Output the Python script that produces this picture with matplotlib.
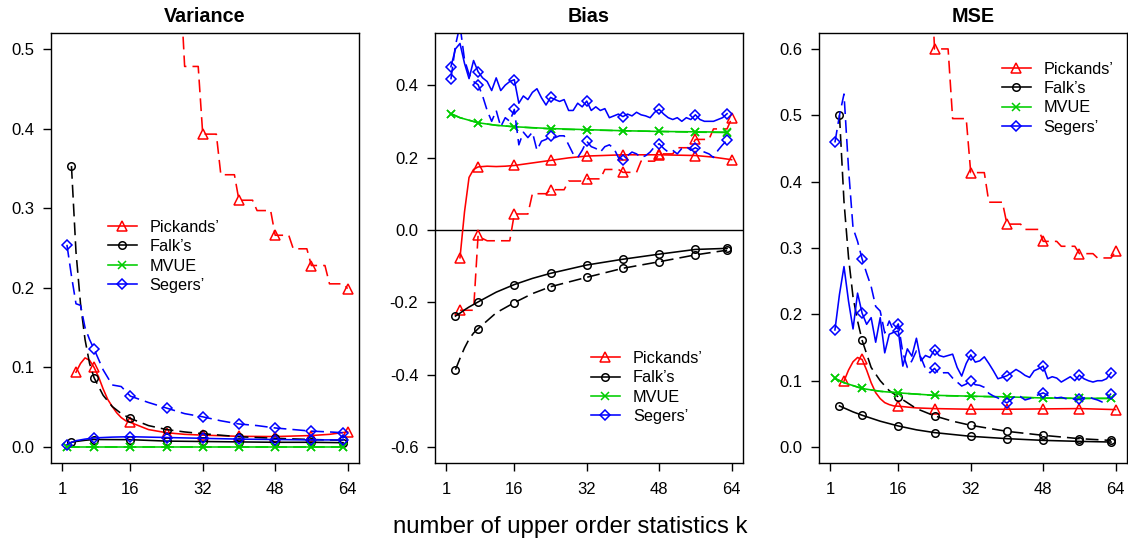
import numpy as np
import matplotlib
matplotlib.use("Agg")
import matplotlib.pyplot as plt
from matplotlib.lines import Line2D

plt.rcParams['font.family'] = ['Liberation Sans', 'DejaVu Sans']
plt.rcParams['axes.unicode_minus'] = False

# ---------------- data ----------------
estimators = ["Pickands\u2019", "Falk\u2019s", "MVUE", "Segers\u2019"]
x_ticks = [1, 16, 32, 48, 64]

# marker positions (k) for each estimator
mk_pick = [4, 8, 16, 24, 32, 40, 48, 56, 64]
mk_falk = [3, 8, 16, 24, 32, 40, 48, 56, 63]
mk_mvue = [2, 8, 16, 24, 32, 40, 48, 56, 63]
mk_seg = [2, 8, 16, 24, 32, 40, 48, 56, 63]

k_step = [4, 7, 8, 11, 12, 15, 16, 19, 20, 23, 24, 27, 28, 31, 32, 35,
          36, 39, 40, 43, 44, 47, 48, 51, 52, 55, 56, 59, 60, 63, 64]
k_seg = list(range(2, 64))

# ---- Variance ----
var_pick_solid_k = [4, 5, 6, 7, 8, 9, 10, 11, 12, 13, 14, 15, 16, 20, 24, 28, 32, 40, 48, 56, 60, 64]
var_pick_solid = [0.094, 0.105, 0.112, 0.109, 0.100, 0.088, 0.073, 0.060, 0.051, 0.043, 0.037, 0.033,
                  0.031, 0.022, 0.018, 0.016, 0.015, 0.0135, 0.0132, 0.0145, 0.016, 0.019]
var_pick_dash = [2.5, 2.5, 1.6, 1.6, 1.2, 1.2, 0.95, 0.95, 0.74, 0.74, 0.588, 0.588, 0.478, 0.478,
                 0.393, 0.393, 0.342, 0.342, 0.31, 0.31, 0.297, 0.297, 0.266, 0.266, 0.249, 0.249,
                 0.228, 0.228, 0.205, 0.205, 0.199]
var_falk_solid_k = [3, 4, 6, 8, 16, 24, 32, 40, 48, 56, 63]
var_falk_solid = [0.006, 0.007, 0.0085, 0.0095, 0.0093, 0.0075, 0.007, 0.0065, 0.006, 0.006, 0.0055]
var_falk_dash_k = [3, 4, 5, 6, 7, 8, 10, 12, 14, 16, 20, 24, 28, 32, 40, 48, 56, 63]
var_falk_dash = [0.353, 0.245, 0.18, 0.135, 0.105, 0.087, 0.065, 0.051, 0.042, 0.036, 0.027, 0.022,
                 0.019, 0.0168, 0.013, 0.011, 0.0095, 0.0085]
var_mvue_k = [2, 8, 16, 24, 32, 40, 48, 56, 63]
var_mvue_solid = [0.0005, 0.0005, 0.0005, 0.0005, 0.0005, 0.0005, 0.0005, 0.0005, 0.0005]
var_mvue_dash = [0.0004, 0.0004, 0.0004, 0.0004, 0.0004, 0.0004, 0.0004, 0.0004, 0.0004]
var_seg_solid_k = [2, 3, 4, 6, 8, 12, 16, 24, 32, 40, 48, 56, 63]
var_seg_solid = [0.003, 0.006, 0.008, 0.010, 0.0115, 0.0125, 0.013, 0.012, 0.011, 0.010, 0.0095, 0.009, 0.009]
var_seg_dash_k = [2, 3, 4, 5, 6, 7, 8, 10, 12, 14, 16, 20, 24, 28, 32, 36, 40, 44, 48, 52, 56, 60, 63]
var_seg_dash = [0.254, 0.215, 0.18, 0.178, 0.15, 0.135, 0.123, 0.097, 0.078, 0.076, 0.064, 0.056,
                0.049, 0.042, 0.038, 0.033, 0.029, 0.027, 0.024, 0.022, 0.020, 0.019, 0.018]

# ---- Bias ----
bias_pick_solid_k = [4, 5, 6, 7, 8, 10, 12, 14, 16, 20, 24, 28, 32, 40, 48, 56, 60, 64]
bias_pick_solid = [-0.077, 0.05, 0.145, 0.167, 0.174, 0.176, 0.175, 0.176, 0.178, 0.185, 0.192,
                   0.199, 0.204, 0.2075, 0.2075, 0.2055, 0.201, 0.194]
bias_pick_dash_k = [4, 7, 8, 9, 10, 15, 16, 19, 20, 23, 24, 27, 28, 31, 32, 35,
                    36, 39, 40, 43, 44, 47, 48, 51, 52, 55, 56, 59, 60, 63, 64]
bias_pick_dash = [-0.222, -0.222, -0.015, -0.024, -0.03, -0.03, 0.044, 0.044, 0.10, 0.10, 0.111,
                  0.111, 0.135, 0.135, 0.141, 0.141, 0.167, 0.167, 0.159, 0.159, 0.19, 0.19, 0.21,
                  0.21, 0.227, 0.227, 0.25, 0.25, 0.279, 0.279, 0.308]
bias_falk_k = [3, 4, 5, 6, 7, 8, 12, 16, 20, 24, 32, 40, 48, 56, 63]
bias_falk_solid = [-0.238, -0.23, -0.221, -0.213, -0.206, -0.199, -0.172, -0.151, -0.134, -0.120,
                   -0.097, -0.081, -0.067, -0.054, -0.051]
bias_falk_dash = [-0.386, -0.355, -0.326, -0.302, -0.285, -0.273, -0.229, -0.201, -0.176, -0.157,
                  -0.131, -0.106, -0.088, -0.069, -0.056]
bias_mvue_k = [2, 4, 8, 12, 16, 24, 32, 40, 48, 56, 63]
bias_mvue_solid = [0.321, 0.31, 0.296, 0.289, 0.285, 0.280, 0.277, 0.274, 0.272, 0.271, 0.270]
bias_mvue_dash = [0.321, 0.31, 0.296, 0.289, 0.285, 0.279, 0.276, 0.274, 0.272, 0.270, 0.269]
bias_seg_solid = [0.451, 0.50, 0.515, 0.46, 0.418, 0.468, 0.437, 0.42,
                  0.41, 0.385, 0.42, 0.385, 0.40, 0.41, 0.415, 0.35,
                  0.37, 0.36, 0.38, 0.39, 0.365, 0.345, 0.366, 0.36,
                  0.355, 0.36, 0.33, 0.33, 0.35, 0.34, 0.356, 0.33,
                  0.34, 0.33, 0.335, 0.31, 0.315, 0.32, 0.313, 0.32,
                  0.315, 0.325, 0.318, 0.315, 0.31, 0.325, 0.333, 0.32,
                  0.31, 0.305, 0.31, 0.30, 0.31, 0.305, 0.318, 0.305,
                  0.30, 0.30, 0.30, 0.305, 0.31, 0.321]
bias_seg_dash = [0.416, 0.51, 0.565, 0.47, 0.43, 0.41, 0.401, 0.37,
                 0.33, 0.30, 0.33, 0.285, 0.31, 0.30, 0.333, 0.235,
                 0.27, 0.255, 0.27, 0.22, 0.245, 0.25, 0.259, 0.255,
                 0.26, 0.26, 0.235, 0.21, 0.20, 0.22, 0.245, 0.23,
                 0.225, 0.215, 0.23, 0.235, 0.225, 0.20, 0.194, 0.205,
                 0.215, 0.21, 0.20, 0.205, 0.215, 0.23, 0.238, 0.225,
                 0.215, 0.22, 0.21, 0.225, 0.23, 0.22, 0.227, 0.22,
                 0.215, 0.21, 0.20, 0.22, 0.235, 0.248]

# ---- MSE ----
mse_pick_solid_k = [4, 5, 6, 7, 8, 9, 10, 11, 12, 13, 14, 15, 16, 20, 24, 32, 40, 48, 56, 64]
mse_pick_solid = [0.0994, 0.116, 0.1286, 0.135, 0.132, 0.116, 0.097, 0.082, 0.073, 0.067, 0.064,
                  0.062, 0.0616, 0.059, 0.058, 0.057, 0.057, 0.0575, 0.058, 0.0565]
mse_pick_dash = [4.0, 4.0, 2.6, 2.6, 1.45, 1.45, 1.0, 1.0, 0.75, 0.75, 0.600, 0.600, 0.495, 0.495,
                 0.4136, 0.4136, 0.369, 0.369, 0.336, 0.336, 0.328, 0.328, 0.31, 0.31, 0.3026,
                 0.3026, 0.2915, 0.2915, 0.285, 0.285, 0.295]
mse_falk_solid_k = [3, 4, 6, 8, 12, 16, 20, 24, 32, 40, 48, 56, 63]
mse_falk_solid = [0.062, 0.059, 0.053, 0.048, 0.039, 0.0318, 0.026, 0.0218, 0.0162, 0.0127,
                  0.0101, 0.0086, 0.0076]
mse_falk_dash_k = [3, 4, 5, 6, 7, 8, 10, 12, 14, 16, 20, 24, 28, 32, 40, 48, 56, 63]
mse_falk_dash = [0.50, 0.37, 0.286, 0.226, 0.19, 0.161, 0.12, 0.10, 0.085, 0.0757, 0.058, 0.047,
                 0.039, 0.0328, 0.0237, 0.0177, 0.0127, 0.010]
mse_mvue_k = [2, 4, 8, 12, 16, 24, 32, 40, 48, 56, 63]
mse_mvue_solid = [0.1035, 0.097, 0.0883, 0.084, 0.0817, 0.078, 0.0767, 0.0757, 0.074, 0.0735, 0.0735]
mse_mvue_dash = [0.1035, 0.097, 0.0883, 0.084, 0.0817, 0.0778, 0.0764, 0.0755, 0.0738, 0.0733, 0.0732]
mse_seg_solid = [0.1765, 0.23, 0.272, 0.22, 0.178, 0.232, 0.2018, 0.185,
                 0.195, 0.158, 0.195, 0.142, 0.17, 0.173, 0.175, 0.122,
                 0.148, 0.137, 0.164, 0.13, 0.138, 0.135, 0.147, 0.138,
                 0.136, 0.138, 0.140, 0.12, 0.107, 0.126, 0.139, 0.128,
                 0.13, 0.136, 0.126, 0.115, 0.103, 0.105, 0.1075, 0.112,
                 0.117, 0.113, 0.108, 0.105, 0.115, 0.118, 0.122, 0.103,
                 0.106, 0.104, 0.098, 0.102, 0.106, 0.100, 0.1085, 0.103,
                 0.100, 0.098, 0.100, 0.100, 0.103, 0.112]
mse_seg_dash = [0.459, 0.50, 0.532, 0.42, 0.33, 0.31, 0.2835, 0.262,
                0.242, 0.212, 0.205, 0.172, 0.19, 0.175, 0.1856, 0.142,
                0.12, 0.13, 0.145, 0.135, 0.118, 0.112, 0.1186, 0.11,
                0.112, 0.112, 0.104, 0.098, 0.092, 0.095, 0.0999, 0.094,
                0.093, 0.09, 0.081, 0.077, 0.074, 0.07, 0.0666, 0.072,
                0.078, 0.076, 0.071, 0.073, 0.076, 0.079, 0.0817, 0.078,
                0.076, 0.074, 0.075, 0.073, 0.074, 0.072, 0.0717, 0.074,
                0.076, 0.073, 0.071, 0.068, 0.072, 0.0807]

var_yticks = [0.0, 0.1, 0.2, 0.3, 0.4, 0.5]
bias_yticks = [-0.6, -0.4, -0.2, 0.0, 0.2, 0.4]
mse_yticks = [0.0, 0.1, 0.2, 0.3, 0.4, 0.5, 0.6]

# ---------------- style ----------------
COL = {"pick": "#FF0000", "falk": "#000000", "mvue": "#00CD00", "seg": "#0000FF"}
MRK = {"pick": ("^", 7.2), "falk": ("o", 5.4), "mvue": ("x", 5.4), "seg": ("D", 5.4)}
LW = 1.15
DASH = (0, (8.0, 3.8))

W, H = 1128, 541
fig = plt.figure(figsize=(W / 100, H / 100), dpi=100)


def pxbox(l, t, r, b):
    return [l / W, 1 - b / H, (r - l) / W, (b - t) / H]


def draw(ax, k, v, est, dashed, mks):
    k = np.asarray(k)
    v = np.asarray(v, dtype=float)
    idx = [i for i, kk in enumerate(k) if kk in mks]
    m, ms = MRK[est]
    ax.plot(k, v, color=COL[est], lw=LW, linestyle=DASH if dashed else '-',
            marker=m, markevery=idx, ms=ms, mfc='none', mec=COL[est], mew=1.1)


def style(ax, ylim, yticks, title):
    ax.set_xlim(1 - 0.04 * 63, 64 + 0.04 * 63)
    r = ylim[1] - ylim[0]
    ax.set_ylim(ylim[0] - 0.04 * r, ylim[1] + 0.04 * r)
    ax.set_xticks(x_ticks)
    ax.set_xticklabels([str(t) for t in x_ticks])
    ax.set_yticks(yticks)
    ax.set_yticklabels([f"{t:.1f}" for t in yticks])
    ax.tick_params(axis='both', direction='out', length=6, width=1.0, labelsize=12,
                   colors='black')
    ax.tick_params(axis='x', pad=8)
    ax.tick_params(axis='y', pad=6)
    for s in ax.spines.values():
        s.set_linewidth(1.0)
        s.set_color('black')
    ax.set_title(title, fontsize=14.2, fontweight='bold', pad=8)


def legend(ax, x_px, top_px):
    handles = [Line2D([], [], color=COL[e], lw=LW, marker=MRK[e][0], ms=MRK[e][1],
                      mfc='none', mec=COL[e], mew=1.1)
               for e in ["pick", "falk", "mvue", "seg"]]
    ax.legend(handles, estimators, loc='upper left',
              bbox_to_anchor=(x_px / W, 1 - top_px / H), bbox_transform=fig.transFigure,
              frameon=False, fontsize=11.7, borderpad=0, borderaxespad=0,
              handlelength=1.78, handletextpad=0.8, labelspacing=0.27, numpoints=1)


ax1 = fig.add_axes(pxbox(51, 33, 359, 463))
ax2 = fig.add_axes(pxbox(435, 33, 743, 463))
ax3 = fig.add_axes(pxbox(819, 33, 1127, 463))

# Variance
draw(ax1, var_pick_solid_k, var_pick_solid, "pick", False, mk_pick)
draw(ax1, k_step, var_pick_dash, "pick", True, mk_pick)
draw(ax1, var_falk_solid_k, var_falk_solid, "falk", False, mk_falk)
draw(ax1, var_falk_dash_k, var_falk_dash, "falk", True, mk_falk)
draw(ax1, var_mvue_k, var_mvue_solid, "mvue", False, mk_mvue)
draw(ax1, var_mvue_k, var_mvue_dash, "mvue", True, mk_mvue)
draw(ax1, var_seg_solid_k, var_seg_solid, "seg", False, mk_seg)
draw(ax1, var_seg_dash_k, var_seg_dash, "seg", True, mk_seg)
style(ax1, (0.0, 0.5), var_yticks, "Variance")
legend(ax1, 107.7, 219.8)

# Bias
ax2.axhline(0, color='black', lw=1.0)
draw(ax2, bias_pick_solid_k, bias_pick_solid, "pick", False, mk_pick)
draw(ax2, bias_pick_dash_k, bias_pick_dash, "pick", True, mk_pick)
draw(ax2, bias_falk_k, bias_falk_solid, "falk", False, mk_falk)
draw(ax2, bias_falk_k, bias_falk_dash, "falk", True, mk_falk)
draw(ax2, bias_mvue_k, bias_mvue_solid, "mvue", False, mk_mvue)
draw(ax2, bias_mvue_k, bias_mvue_dash, "mvue", True, mk_mvue)
draw(ax2, k_seg, bias_seg_solid, "seg", False, mk_seg)
draw(ax2, k_seg, bias_seg_dash, "seg", True, mk_seg)
style(ax2, (-0.6, 0.5), bias_yticks, "Bias")
legend(ax2, 591, 350.8)

# MSE
draw(ax3, mse_pick_solid_k, mse_pick_solid, "pick", False, mk_pick)
draw(ax3, k_step, mse_pick_dash, "pick", True, mk_pick)
draw(ax3, mse_falk_solid_k, mse_falk_solid, "falk", False, mk_falk)
draw(ax3, mse_falk_dash_k, mse_falk_dash, "falk", True, mk_falk)
draw(ax3, mse_mvue_k, mse_mvue_solid, "mvue", False, mk_mvue)
draw(ax3, mse_mvue_k, mse_mvue_dash, "mvue", True, mk_mvue)
draw(ax3, k_seg, mse_seg_solid, "seg", False, mk_seg)
draw(ax3, k_seg, mse_seg_dash, "seg", True, mk_seg)
style(ax3, (0.0, 0.6), mse_yticks, "MSE")
legend(ax3, 1001.7, 61.5)

fig.text(570 / W, 1 - 527 / H, "number of upper order statistics k", ha='center', va='center',
         fontsize=17.2)

fig.savefig("out.png", dpi=100)
